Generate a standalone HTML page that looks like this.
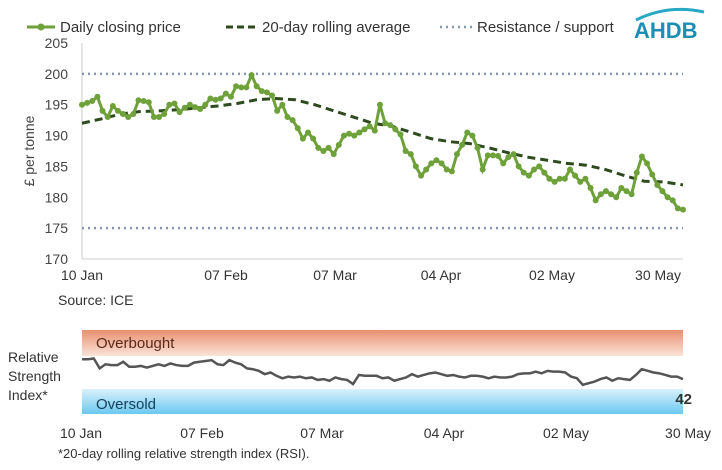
<!DOCTYPE html>
<html><head><meta charset="utf-8"><style>
body{margin:0;background:#fff;font-family:"Liberation Sans",Arial,sans-serif}
svg text{font-family:"Liberation Sans",Arial,sans-serif}
</style></head><body>
<svg id="c" width="722" height="465" viewBox="0 0 722 465">
<defs>
<linearGradient id="ob" x1="0" y1="0" x2="0" y2="1"><stop offset="0" stop-color="#e8906f"/><stop offset="1" stop-color="#fbe3d8"/></linearGradient>
<linearGradient id="os" x1="0" y1="0" x2="0" y2="1"><stop offset="0" stop-color="#d8f1fc"/><stop offset="1" stop-color="#6cc8f0"/></linearGradient>
</defs>
<g>
<line x1="27" y1="27" x2="55" y2="27" stroke="#6ea13a" stroke-width="3"/><circle cx="41" cy="27" r="3.5" fill="#6ea13a"/>
<text x="60" y="32" font-size="15" fill="#333">Daily closing price</text>
<line x1="226" y1="27" x2="256" y2="27" stroke="#2e4a1e" stroke-width="3" stroke-dasharray="7,4"/>
<text x="262" y="32" font-size="15" fill="#333">20-day rolling average</text>
<line x1="440" y1="27" x2="472" y2="27" stroke="#8496b0" stroke-width="2.5" stroke-dasharray="2,4"/>
<text x="477" y="32" font-size="15" fill="#333">Resistance / support</text>
</g>
<g>
<path d="M636 20 Q668 4 704 12" stroke="#27a8c5" stroke-width="3" fill="none"/>
<text x="634" y="38" font-size="22" font-weight="bold" fill="#1d8fb5">AHDB</text>
</g>
<text transform="translate(34,151) rotate(-90)" text-anchor="middle" font-size="14" fill="#444">£ per tonne</text>
<g id="yt"></g><g id="main"></g>
<text x="58" y="305" font-size="14" fill="#333">Source: ICE</text>
<g>
<rect x="82" y="330" width="601" height="26" fill="url(#ob)"/>
<rect x="82" y="389" width="601" height="25" fill="url(#os)"/>
<text x="96" y="348" font-size="15" fill="#5a2a1a">Overbought</text>
<text x="96" y="409" font-size="15" fill="#123f5a">Oversold</text>
<text x="8" y="362" font-size="14" fill="#333">Relative</text>
<text x="8" y="381" font-size="14" fill="#333">Strength</text>
<text x="8" y="400" font-size="14" fill="#333">Index*</text>
<g id="rsi"></g>
<text x="692" y="404" font-size="15" font-weight="bold" fill="#333" text-anchor="end">42</text>
</g>
<text x="58" y="458" font-size="13" fill="#333">*20-day rolling relative strength index (RSI).</text>
</svg>
<script>
const price=[195,195.3,195.6,196.3,194,193,194.8,194,193.5,193,193.5,195.7,195.6,195.4,193,193,193.5,195,195.2,193.8,194.5,195,194.6,194.3,195,196,195.8,196,196.8,196.3,198,197.8,197.8,199.8,198,197.2,197,196.5,194,195,193,192.5,191.2,189.5,190.5,189.5,188,187.5,188,187,188.5,190,190.3,190,190.5,191,191.5,190.8,195,192,191.7,191,190.2,187.5,187,185,183.5,184.5,185.5,186,185.5,184.5,184.2,187,188.5,190.5,190,188,184.5,186.8,186.8,186.7,185.5,186.5,187,185,184,183.5,184.5,185,184,183,182.5,183,183,184.5,183.5,182.5,183,181.5,179.5,180.5,181,180.5,180,181.5,181,180.5,184,186.6,185.5,183.7,182,181,180,179.5,178.2,178];
const avg=[192,192.7,193.5,193.9,194,194.2,194.5,194.8,195.2,195.8,196,195.8,195,194,193,192,191.5,190.5,189.5,189,188.7,188,187.2,186.5,186,185.5,185.2,184.5,183.5,182.6,182.5,182];
const rsi=[66,66,67,55,60,59,59,63,57,57,58,56,58,60,58,61,59,58,58,62,63,64,65,60,59,65,62,60,55,54,52,48,50,46,43,45,44,45,43,44,41,42,40,44,42,41,36,47,46,46,46,43,44,40,42,44,48,45,47,49,50,48,46,47,45,44,46,46,45,43,45,44,44,45,48,49,49,51,49,52,51,51,50,45,43,35,37,39,42,44,40,43,42,41,47,54,52,50,49,47,45,45,42];
const yTicks=[170,175,180,185,190,195,200,205];
const levels=[200,175];
const xLabels=["10 Jan","07 Feb","07 Mar","04 Apr","02 May","30 May"];
const NS="http://www.w3.org/2000/svg";
const X0=82,X1=683;
const y=v=>259-(v-170)*216/35;
const yr=v=>389-(v-30)*0.825;
const xi=(i,n)=>X0+i*(X1-X0)/(n-1);
function mk(t,a,p){const e=document.createElementNS(NS,t);for(const k in a)e.setAttribute(k,a[k]);(p||document.getElementById('c')).appendChild(e);return e;}
const main=document.getElementById('main'),yt=document.getElementById('yt'),rg=document.getElementById('rsi');
yTicks.forEach(v=>{const t=mk('text',{x:68,y:y(v)+5,'text-anchor':'end','font-size':14,fill:'#444'},yt);t.textContent=v;

});
mk('line',{x1:X0,y1:43,x2:X0,y2:259,stroke:'#ccc'},main);
mk('line',{x1:X0,y1:259,x2:X1,y2:259,stroke:'#ccc'},main);
levels.forEach(v=>{const l=mk('line',{x1:X0,y1:y(v),x2:X1,y2:y(v),stroke:'#8496b0','stroke-width':2.5,'stroke-dasharray':'2,4'},main);

});
const topX=[82,226,335,441,552,658],botX=[81,202,322,444,566,688];
xLabels.forEach((s,i)=>{let t=mk('text',{x:topX[i],y:280,'text-anchor':'middle','font-size':14,fill:'#333'},main);t.textContent=s;


t=mk('text',{x:botX[i],y:438,'text-anchor':'middle','font-size':14,fill:'#333'},rg);t.textContent=s;

});
const pa=mk('polyline',{points:avg.map((v,i)=>xi(i,avg.length)+','+y(v)).join(' '),fill:'none',stroke:'#2e4a1e','stroke-width':3,'stroke-dasharray':'8,5'},main);


const pp=mk('polyline',{points:price.map((v,i)=>xi(i,price.length)+','+y(v)).join(' '),fill:'none',stroke:'#6ea13a','stroke-width':3},main);


price.forEach((v,i)=>{const c=mk('circle',{cx:xi(i,price.length),cy:y(v),r:3,fill:'#6ea13a'},main);

});
const pr=mk('polyline',{points:rsi.map((v,i)=>xi(i,rsi.length)+','+yr(v)).join(' '),fill:'none',stroke:'#555','stroke-width':2.5},rg);


</script>
</body></html>
